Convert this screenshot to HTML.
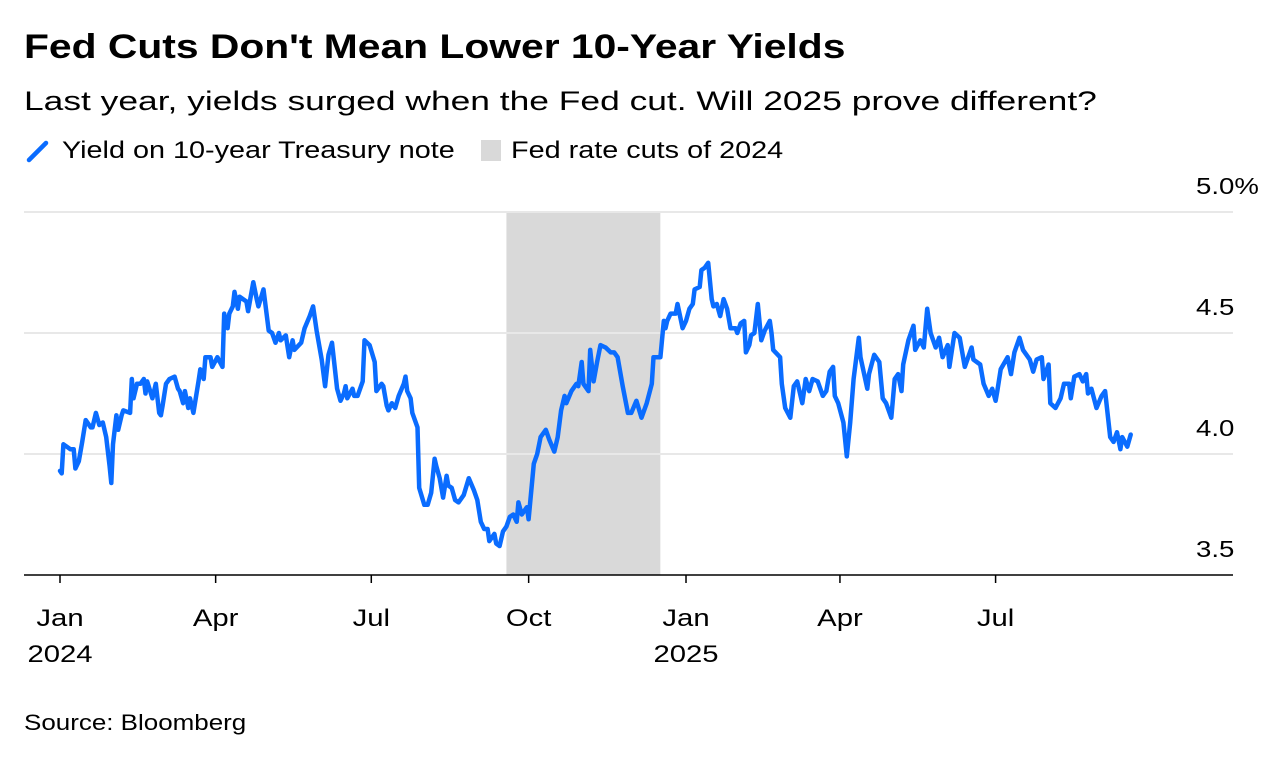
<!DOCTYPE html>
<html><head><meta charset="utf-8"><style>
body{margin:0;width:1276px;height:766px;background:#fff;font-family:"Liberation Sans",Arial,sans-serif;color:#000;overflow:hidden;position:relative}
.sx{transform-origin:0 50%;white-space:nowrap}
#title{position:absolute;left:24px;top:28px;font-size:34px;font-weight:bold;transform:scaleX(1.2)}
#sub{position:absolute;left:24px;top:86px;font-size:27px;transform:scaleX(1.31)}
#legend{position:absolute;left:24px;top:137px;font-size:24px;display:flex;align-items:center}
#source{position:absolute;left:24px;top:710px;font-size:22px;transform:scaleX(1.18)}
svg{position:absolute;left:0;top:0}
</style></head><body>
<div id="title" class="sx">Fed Cuts Don't Mean Lower 10-Year Yields</div>
<div id="sub" class="sx">Last year, yields surged when the Fed cut. Will 2025 prove different?</div>
<div id="legend">
<svg width="24" height="24" style="position:absolute;left:2px;top:2px"><line x1="3" y1="21" x2="20" y2="4" stroke="#0a6cff" stroke-width="4.5" stroke-linecap="round"/></svg>
<span class="sx" style="position:absolute;left:38px;top:0;transform:scaleX(1.2)">Yield on 10-year Treasury note</span>
<span style="position:absolute;left:457px;top:3px;width:20px;height:21px;background:#d9d9d9"></span>
<span class="sx" style="position:absolute;left:487px;top:0;transform:scaleX(1.2)">Fed rate cuts of 2024</span>
</div>
<svg id="chart" width="1276" height="766"></svg>
<div id="source" class="sx">Source: Bloomberg</div>
<script>
const days=[0,1,2,4,6,8,9,11,13,15,18,19,21,23,25,27,29,30,31,33,34,36,37,41,42,43,45,47,49,50,51,54,56,58,59,60,62,64,67,69,70,72,73,75,76,78,81,82,84,85,88,89,92,95,96,98,99,101,102,104,105,107,109,110,113,115,116,119,122,124,126,128,129,132,134,136,137,141,143,146,148,150,153,155,157,159,162,164,166,167,168,171,172,174,177,178,181,184,185,188,189,191,192,194,196,198,201,202,203,205,206,209,210,213,215,217,219,220,222,224,226,227,229,231,233,236,239,242,244,246,248,250,251,254,255,257,259,261,263,265,267,268,270,273,274,277,279,281,284,286,289,291,293,295,296,299,302,303,305,306,309,310,312,314,316,319,322,324,326,329,332,334,337,340,343,346,347,350,351,353,354,355,357,360,361,364,366,368,370,371,374,375,377,379,381,382,384,386,388,390,392,395,396,398,400,401,403,404,406,408,410,412,415,416,417,421,422,424,427,429,431,434,436,438,440,443,446,448,450,452,453,455,458,460,462,464,467,468,472,473,476,479,481,483,486,488,490,492,493,496,499,500,503,505,507,509,512,514,516,519,520,523,526,529,533,534,538,540,543,545,547,548,550,554,556,558,561,563,567,569,571,574,575,578,579,582,585,587,590,591,593,596,598,600,601,603,606,609,611,614,616,618,620,621,624,626];
const yields=[3.93,3.92,4.04,4.03,4.02,4.02,3.94,3.97,4.05,4.14,4.11,4.11,4.17,4.12,4.13,4.07,3.95,3.88,4.04,4.16,4.10,4.16,4.18,4.17,4.31,4.23,4.29,4.29,4.31,4.25,4.30,4.23,4.29,4.17,4.16,4.20,4.29,4.31,4.32,4.27,4.26,4.21,4.26,4.19,4.23,4.17,4.30,4.35,4.31,4.40,4.40,4.36,4.40,4.36,4.58,4.52,4.58,4.61,4.67,4.60,4.65,4.64,4.63,4.59,4.71,4.64,4.61,4.68,4.51,4.50,4.46,4.50,4.47,4.49,4.40,4.47,4.43,4.46,4.52,4.57,4.61,4.51,4.39,4.28,4.41,4.46,4.27,4.22,4.25,4.28,4.23,4.27,4.24,4.24,4.30,4.47,4.45,4.38,4.26,4.29,4.28,4.20,4.18,4.21,4.19,4.24,4.29,4.32,4.26,4.23,4.17,4.11,3.86,3.79,3.79,3.84,3.98,3.95,3.90,3.82,3.91,3.87,3.86,3.81,3.80,3.83,3.90,3.85,3.81,3.72,3.69,3.69,3.64,3.67,3.63,3.62,3.68,3.70,3.74,3.75,3.72,3.80,3.75,3.78,3.73,3.96,4.00,4.07,4.10,4.06,4.01,4.07,4.18,4.24,4.21,4.26,4.29,4.28,4.38,4.29,4.26,4.43,4.30,4.38,4.45,4.44,4.42,4.42,4.40,4.28,4.17,4.17,4.22,4.15,4.21,4.29,4.40,4.40,4.40,4.55,4.52,4.55,4.58,4.58,4.62,4.52,4.55,4.60,4.62,4.68,4.69,4.76,4.77,4.79,4.64,4.61,4.62,4.57,4.64,4.60,4.52,4.52,4.50,4.54,4.55,4.42,4.45,4.49,4.50,4.62,4.47,4.51,4.55,4.50,4.43,4.40,4.29,4.19,4.15,4.28,4.30,4.21,4.31,4.26,4.31,4.30,4.24,4.26,4.34,4.36,4.24,4.21,4.13,3.99,4.13,4.31,4.48,4.40,4.27,4.33,4.41,4.38,4.23,4.21,4.15,4.31,4.33,4.26,4.37,4.47,4.53,4.43,4.47,4.44,4.60,4.50,4.44,4.48,4.40,4.45,4.36,4.50,4.48,4.36,4.44,4.39,4.37,4.29,4.24,4.27,4.22,4.26,4.35,4.40,4.33,4.42,4.48,4.43,4.39,4.34,4.39,4.40,4.31,4.37,4.21,4.19,4.23,4.29,4.29,4.23,4.32,4.33,4.30,4.33,4.25,4.27,4.19,4.24,4.26,4.07,4.05,4.09,4.02,4.07,4.03,4.08];
const yTicks=[3.5,4.0,4.5,5.0];
const yTickLabels=["3.5","4.0","4.5","5.0%"];
const monthDays=[0,91,182,274,366,456,547];
const monthLabels=["Jan","Apr","Jul","Oct","Jan","Apr","Jul"];
const yearLabels=["2024","","","","2025","",""];
const cutStart=261, cutEnd=351;

const NS="http://www.w3.org/2000/svg";
const svg=document.getElementById('chart');
const X=d=>60+d*1.7104;
const Y=v=>575-(v-3.5)*242;
function mk(tag,attrs){const e=document.createElementNS(NS,tag);for(const k in attrs)e.setAttribute(k,attrs[k]);svg.appendChild(e);return e;}
const FF='Liberation Sans, Arial, sans-serif';

const shade=mk('rect',{x:X(cutStart),y:Y(5.0),width:X(cutEnd)-X(cutStart),height:Y(3.5)-Y(5.0),fill:'#d9d9d9'});



yTicks.forEach((t,i)=>{
  if(t>3.5){const g=mk('line',{x1:24,x2:1233,y1:Y(t),y2:Y(t),stroke:'#e8e8e8','stroke-width':2});
  
  }
  const tx=mk('text',{x:0,y:0,transform:`translate(1196,${Y(t)-18}) scale(1.2,1)`,'text-anchor':'start','font-size':23,'font-family':FF,fill:'#000'});
  tx.textContent=yTickLabels[i];
  
  
});

const pts=days.map((d,i)=>X(d).toFixed(1)+','+Y(yields[i]).toFixed(1)).join(' ');
const line=mk('polyline',{points:pts,fill:'none',stroke:'#0a6cff','stroke-width':4.5,'stroke-linejoin':'round','stroke-linecap':'round'});



const axis=mk('line',{x1:24,x2:1233,y1:575,y2:575,stroke:'#000','stroke-width':1.5});



monthDays.forEach((d,i)=>{
  const tk=mk('line',{x1:X(d),x2:X(d),y1:575,y2:583,stroke:'#000','stroke-width':1.5});
  
  
  const t=mk('text',{x:0,y:0,transform:`translate(${X(d)},626) scale(1.22,1)`,'text-anchor':'middle','font-size':24,'font-family':FF,fill:'#000'});
  t.textContent=monthLabels[i];
  
  
  if(yearLabels[i]){const yt=mk('text',{x:0,y:0,transform:`translate(${X(d)},662) scale(1.22,1)`,'text-anchor':'middle','font-size':24,'font-family':FF,fill:'#000'});
  yt.textContent=yearLabels[i];
  
  }
});
</script>
</body></html>
